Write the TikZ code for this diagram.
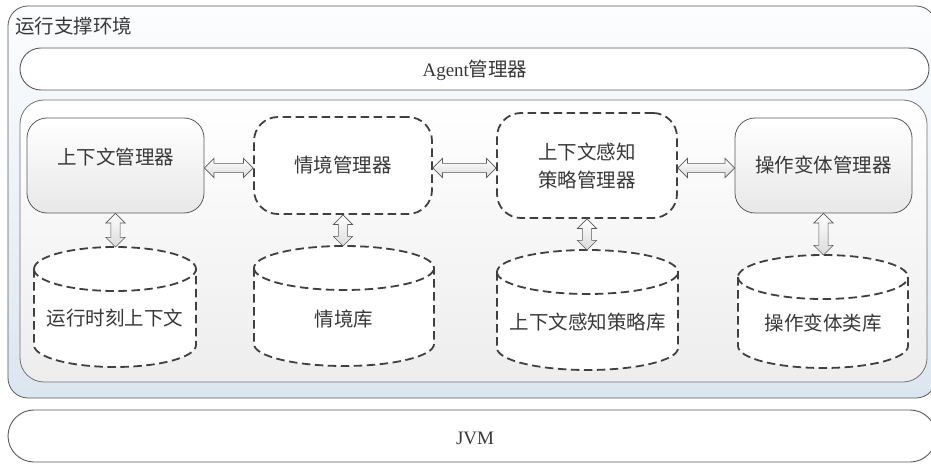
\documentclass[tikz,border=0pt]{standalone}
\usepackage{fontspec}
\setmainfont{Liberation Serif}
\newfontfamily\cjk{Noto Sans CJK SC}
\usetikzlibrary{shapes.arrows,calc}

\definecolor{inkgray}{HTML}{383838}
\definecolor{edgegray}{HTML}{5A5A5A}
\definecolor{dashgray}{HTML}{404040}
\definecolor{envtop}{HTML}{FCFDFE}
\definecolor{envbottom}{HTML}{DCE6F0}
\definecolor{coretop}{HTML}{FFFFFF}
\definecolor{corebottom}{HTML}{EDEDED}

\tikzset{
  lbl/.style={text=inkgray, font=\cjk\fontsize{19.5}{28.5}\selectfont, inner sep=0pt, align=center},
  latinlbl/.style={text=inkgray, font=\rmfamily\fontsize{19}{23}\selectfont, inner sep=0pt},
  pill/.style={rectangle, draw=edgegray, line width=0.9pt, fill=white},
  solidbox/.style={rectangle, rounded corners=20pt, draw=edgegray, line width=0.8pt,
    top color=white, bottom color=black!9},
  dashbox/.style={rectangle, rounded corners=24pt, draw=dashgray, line width=1.8pt,
    dash pattern=on 8.5pt off 4.5pt, fill=white},
  cylline/.style={draw=dashgray, line width=1.8pt, dash pattern=on 8.5pt off 4.5pt},
  dualarrow/.style={double arrow, double arrow head extend=5pt, double arrow tip angle=90,
    inner sep=4.3pt, draw=edgegray, line width=0.6pt, top color=white, bottom color=black!14}
}

% double block arrow between two named points
\newcommand\linkarrow[4][]{%
  \path let \p1=(#3), \p2=(#4), \n1={veclen(\x2-\x1,\y2-\y1)} in
    node[dualarrow, minimum height=\n1, #1] (#2) at ($(\p1)!.5!(\p2)$) {};}

% dashed database cylinder: name, centre x, x radius, top y, bottom y, text y, text
\newcommand\dbcyl[7]{%
  \draw[cylline, fill=white] (#2-#3,#4-22) -- (#2-#3,#5+22)
    arc[start angle=180, end angle=360, x radius=#3, y radius=22]
    -- (#2+#3,#4-22)
    arc[start angle=0, end angle=180, x radius=#3, y radius=22] -- cycle;
  \draw[cylline] (#2-#3,#4-22)
    arc[start angle=180, end angle=360, x radius=#3, y radius=22];
  \coordinate (#1top) at (#2,#4);
  \node[lbl] (#1) at (#2,#6) {#7};}

\begin{document}
\begin{tikzpicture}[x=1pt, y=1pt]
\useasboundingbox (0,0) rectangle (931,464);

% runtime support environment
\draw[draw=edgegray, line width=0.8pt, rounded corners=20pt,
  top color=envtop, bottom color=envbottom] (8,66) rectangle (936,458);
\node[lbl, anchor=west] (envtitle) at (15,437.5) {运行支撑环境};

% agent manager bar
\node[pill, rounded corners=21pt, minimum width=909pt, minimum height=42pt] (agent)
  at (474.5,395) {};
\node[lbl] (agenttext) at (475,394) {{\rmfamily\fontsize{19}{23}\selectfont Agent}管理器};

% core container
\draw[draw=edgegray!85, line width=0.8pt, rounded corners=24pt,
  top color=coretop, bottom color=corebottom] (20,82) rectangle (927,364);

% managers
\node[solidbox, minimum width=177pt, minimum height=95pt] (m1) at (115.5,298.5) {};
\node[lbl] (m1text) at (115.5,307) {上下文管理器};
\node[dashbox, minimum width=178pt, minimum height=97pt] (m2) at (343,298.5) {};
\node[lbl] (m2text) at (343,298.5) {情境管理器};
\node[dashbox, minimum width=180pt, minimum height=105pt] (m3) at (587,298.5) {};
\node[lbl] (m3text) at (587,298) {上下文感知\\策略管理器};
\node[solidbox, minimum width=177pt, minimum height=95pt] (m4) at (823.5,298.5) {};
\node[lbl] (m4text) at (823.5,298.5) {操作变体管理器};

% repositories
\dbcyl{c1}{115}{81}{217}{97}{146}{运行时刻上下文}
\dbcyl{c2}{344}{90}{218}{98}{145}{情境库}
\dbcyl{c3}{587.5}{90.5}{214}{94}{142}{上下文感知策略库}
\dbcyl{c4}{823}{85}{209}{96}{141}{操作变体类库}

% horizontal links between managers
\linkarrow[yshift=-2.5pt]{a12}{m1.east}{m2.west}
\linkarrow[yshift=-2.5pt]{a23}{m2.east}{m3.west}
\linkarrow[yshift=-2.5pt]{a34}{m3.east}{m4.west}

% vertical links to repositories
\linkarrow[rotate=90]{v1}{m1.south}{m1.south |- c1top}
\linkarrow[rotate=90]{v2}{m2.south}{m2.south |- c2top}
\linkarrow[rotate=90]{v3}{m3.south}{m3.south |- c3top}
\linkarrow[rotate=90]{v4}{m4.south}{m4.south |- c4top}

% JVM bar
\node[pill, rounded corners=26pt, minimum width=928pt, minimum height=52pt] (jvm)
  at (472,28) {};
\node[latinlbl] (jvmtext) at (475,26) {JVM};
\end{tikzpicture}
\end{document}
